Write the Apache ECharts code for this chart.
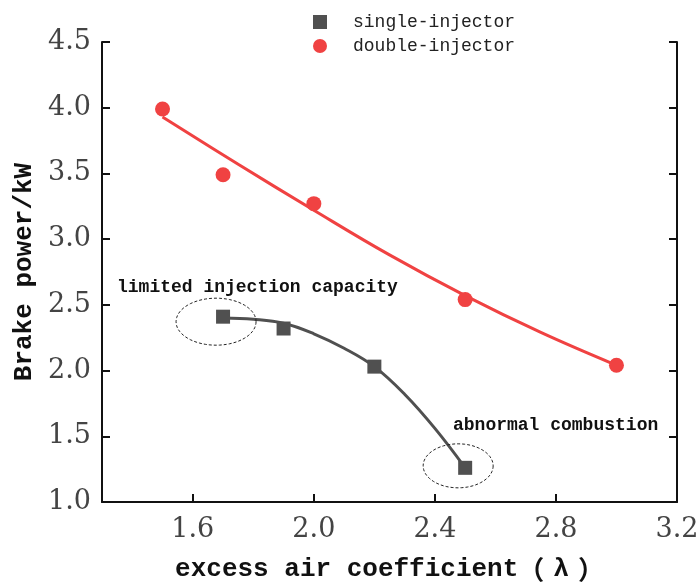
<!DOCTYPE html>
<html>
<head>
<meta charset="utf-8">
<script src="https://cdn.jsdelivr.net/npm/echarts@6/dist/echarts.min.js"></script>
<style>
  html, body { margin: 0; padding: 0; background: #fff; }
  #chart { width: 700px; height: 583px; }
</style>
</head>
<body>
<div id="chart"></div>
<script>
// Excess air coefficient ticks shown on the x axis
const xTickValues = [1.6, 2.0, 2.4, 2.8, 3.2];

// Measured brake power, single injector
const singleLambda = [1.7, 1.9, 2.2, 2.5];
const singlePower = [2.41, 2.32, 2.03, 1.26];

// Measured brake power, double injector
const doubleLambda = [1.5, 1.7, 2.0, 2.5, 3.0];
const doublePower = [3.99, 3.49, 3.27, 2.54, 2.04];

// Trend curves drawn through each data set
const singleTrendLambda = [1.7, 1.8, 1.9, 2.0, 2.1, 2.2, 2.3, 2.4, 2.5];
const singleTrendPower = [2.40, 2.39, 2.36, 2.28, 2.17, 2.03, 1.82, 1.56, 1.26];
const doubleTrendLambda = [1.5, 1.75, 2.0, 2.25, 2.5, 2.75, 3.0];
const doubleTrendPower = [3.93, 3.57, 3.22, 2.88, 2.57, 2.29, 2.04];

// Points singled out with a dashed ellipse and a note
const notedLambda = [1.7, 2.5];
const notedPower = [2.41, 1.26];
const noteTexts = ['limited injection capacity', 'abnormal combustion'];

const zip = (xs, ys) => xs.map((x, i) => [x, ys[i]]);

const RED = '#f04242';
const DARK = '#505050';
const numFont = '"DejaVu Serif", serif';
const monoFont = '"Liberation Mono", "Noto Sans CJK SC", monospace';
const cjkFont = '"Noto Sans CJK SC", sans-serif';

// Ellipse geometry around each noted point, in pixels relative to the point
const ellipseShapes = [
  { dx: -7, dy: 5, rx: 40, ry: 23.5 },
  { dx: -7, dy: -2, rx: 35, ry: 22 }
];

function ellipsePoints(cx, cy, rx, ry) {
  const pts = [];
  const n = 72;
  for (let i = 0; i < n; i++) {
    const a = (i / n) * Math.PI * 2;
    pts.push([cx + rx * Math.cos(a), cy + ry * Math.sin(a)]);
  }
  return pts;
}

const chart = echarts.init(document.getElementById('chart'));

const yAxisCommon = {
  type: 'value',
  min: 1.0,
  max: 4.5,
  interval: 0.5,
  splitLine: { show: false },
  axisLine: { show: true, lineStyle: { color: '#111', width: 2 } },
  axisTick: { show: true, inside: true, length: 8, lineStyle: { color: '#111', width: 2 } }
};

chart.setOption({
  animation: false,
  backgroundColor: '#fff',
  grid: { left: 102, right: 23, top: 42, bottom: 81, containLabel: false, outerBoundsMode: 'none' },
  legend: {
    data: ['single-injector', 'double-injector'],
    orient: 'vertical',
    left: 313,
    top: 13,
    padding: 0,
    itemWidth: 14,
    itemHeight: 14,
    itemGap: 6,
    textStyle: {
      fontFamily: monoFont,
      fontSize: 18,
      color: '#222',
      padding: [0, 0, 0, 21]
    }
  },
  xAxis: {
    type: 'value',
    min: 1.3,
    max: 3.2,
    name: '{a|excess air coefficient}{p|（}{l|λ}{p|）}',
    nameLocation: 'middle',
    nameGap: 54,
    nameTextStyle: {
      fontFamily: monoFont,
      fontSize: 26,
      fontWeight: 'bold',
      color: '#111',
      rich: {
        a: { fontFamily: monoFont, fontSize: 26, fontWeight: 'bold', color: '#111' },
        l: { fontFamily: monoFont, fontSize: 26, fontWeight: 'bold', color: '#111', padding: [0, 9, 0, 9] },
        p: { fontFamily: cjkFont, fontSize: 26, color: '#111' }
      }
    },
    splitLine: { show: false },
    axisLine: { show: true, onZero: false, lineStyle: { color: '#111', width: 2 } },
    axisTick: { show: true, inside: true, length: 8, customValues: xTickValues, lineStyle: { color: '#111', width: 2 } },
    axisLabel: {
      customValues: xTickValues,
      formatter: v => v.toFixed(1),
      fontFamily: numFont,
      fontSize: 27,
      color: '#444',
      margin: 14
    }
  },
  yAxis: [
    Object.assign({}, yAxisCommon, {
      position: 'left',
      name: 'Brake power/kW',
      nameLocation: 'middle',
      nameRotate: 90,
      nameGap: 50,
      nameTextStyle: { fontFamily: monoFont, fontSize: 26, fontWeight: 'bold', color: '#111' },
      axisLabel: {
        formatter: v => v.toFixed(1),
        fontFamily: numFont,
        fontSize: 27,
        color: '#444',
        margin: 11,
        padding: [8, 0, 0, 0]
      }
    }),
    Object.assign({}, yAxisCommon, {
      position: 'right',
      axisLabel: { show: false }
    })
  ],
  graphic: [
    {
      type: 'text',
      left: 117,
      top: 278,
      style: { text: noteTexts[0], font: 'bold 18px ' + monoFont, fill: '#111' }
    },
    {
      type: 'text',
      left: 453,
      top: 416,
      style: { text: noteTexts[1], font: 'bold 18px ' + monoFont, fill: '#111' }
    }
  ],
  series: [
    {
      name: 'double-injector trend',
      type: 'line',
      data: zip(doubleTrendLambda, doubleTrendPower),
      smooth: 0.4,
      showSymbol: false,
      lineStyle: { color: RED, width: 3 },
      z: 2,
      silent: true
    },
    {
      name: 'single-injector trend',
      type: 'line',
      data: zip(singleTrendLambda, singleTrendPower),
      smooth: 0.4,
      showSymbol: false,
      lineStyle: { color: DARK, width: 3 },
      z: 2,
      silent: true
    },
    {
      name: 'single-injector',
      type: 'scatter',
      symbol: 'rect',
      symbolSize: 14,
      itemStyle: { color: DARK, opacity: 1 },
      data: zip(singleLambda, singlePower),
      z: 3
    },
    {
      name: 'double-injector',
      type: 'scatter',
      symbol: 'circle',
      symbolSize: 15,
      itemStyle: { color: RED, opacity: 1 },
      data: zip(doubleLambda, doublePower),
      z: 3
    },
    {
      name: 'noted points',
      type: 'custom',
      data: zip(notedLambda, notedPower),
      silent: true,
      z: 4,
      renderItem: function (params, api) {
        const p = api.coord([api.value(0), api.value(1)]);
        const e = ellipseShapes[params.dataIndex];
        return {
          type: 'polygon',
          shape: { points: ellipsePoints(p[0] + e.dx, p[1] + e.dy, e.rx, e.ry) },
          style: { fill: 'none', stroke: '#222', lineWidth: 1, lineDash: [3, 2] }
        };
      }
    }
  ]
});
</script>
</body>
</html>
